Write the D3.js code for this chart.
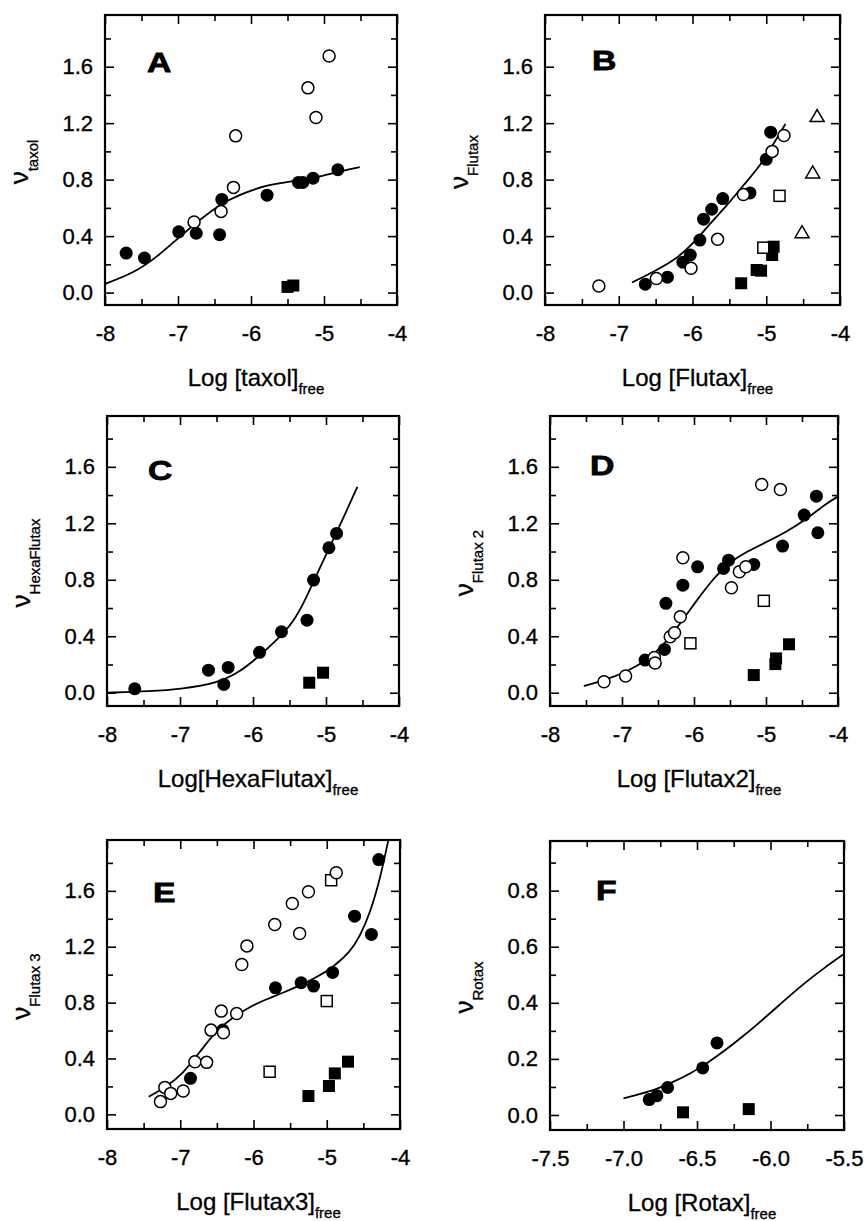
<!DOCTYPE html>
<html><head><meta charset="utf-8">
<script src="https://cdn.jsdelivr.net/npm/d3@7"></script>
<style>
body{margin:0;background:#fff}
svg{display:block}
text{font-family:"Liberation Sans",Arial,Helvetica,sans-serif;fill:#000}
</style>
</head><body>
<svg id="chart" width="867" height="1221"></svg>
<script>
// ---------- tick labels ----------
const xTicksMain = [-8, -7, -6, -5, -4];
const xMinorMain = [-7.5, -6.5, -5.5, -4.5];
const yTicksMain = [0, 0.4, 0.8, 1.2, 1.6];
const yMinorMain = [0.2, 0.6, 1.0, 1.4, 1.8];
const xTicksF = [-7.5, -7.0, -6.5, -6.0, -5.5];
const xMinorF = [-7.25, -6.75, -6.25, -5.75];
const yTicksF = [0, 0.2, 0.4, 0.6, 0.8];
const yMinorF = [0.1, 0.3, 0.5, 0.7, 0.9];

// ---------- Panel A (taxol) ----------
const A_filled = [[-7.71,0.28],[-7.46,0.245],[-6.99,0.43],[-6.75,0.42],[-6.40,0.66],[-6.43,0.41],[-5.78,0.69],[-5.35,0.78],[-5.29,0.78],[-5.15,0.81],[-4.81,0.87]];
const A_open = [[-6.78,0.50],[-6.41,0.575],[-6.24,0.745],[-6.21,1.11],[-5.22,1.45],[-5.11,1.24],[-4.93,1.675]];
const A_filledSq = [[-5.50,0.04],[-5.42,0.05]];
const A_curve = [[-8,0.062],[-7.61,0.137],[-7.29,0.251],[-6.97,0.398],[-6.70,0.516],[-6.43,0.623],[-6.155,0.694],[-5.79,0.762],[-5.43,0.788],[-5.06,0.82],[-4.79,0.857],[-4.51,0.888]];

// ---------- Panel B (Flutax) ----------
const B_filled = [[-6.64,0.059],[-6.34,0.109],[-6.13,0.215],[-6.03,0.266],[-5.90,0.372],[-5.85,0.52],[-5.74,0.59],[-5.59,0.666],[-5.22,0.706],[-5.0,0.944],[-4.94,1.136]];
const B_open = [[-7.27,0.047],[-6.49,0.10],[-6.02,0.172],[-5.66,0.377],[-5.31,0.694],[-4.92,1.0],[-4.76,1.113]];
const B_openSq = [[-5.04,0.318],[-4.82,0.685]];
const B_filledSq = [[-5.34,0.066],[-5.13,0.16],[-5.07,0.155],[-4.92,0.266],[-4.90,0.325]];
const B_openTri = [[-4.515,0.424],[-4.37,0.847],[-4.31,1.247]];
const B_curve = [[-6.82,0.071],[-6.66,0.113],[-6.44,0.172],[-6.21,0.243],[-5.985,0.349],[-5.76,0.49],[-5.53,0.619],[-5.31,0.76],[-5.08,0.90],[-4.90,1.054],[-4.74,1.195]];

// ---------- Panel C (HexaFlutax) ----------
const C_filled = [[-7.62,0.028],[-6.61,0.16],[-6.34,0.179],[-6.40,0.059],[-5.91,0.286],[-5.61,0.432],[-5.26,0.514],[-5.17,0.798],[-4.96,1.027],[-4.855,1.128]];
const C_filledSq = [[-5.23,0.071],[-5.04,0.142]];
const C_curve = [[-8,0.0],[-7.41,0.009],[-6.96,0.028],[-6.50,0.066],[-6.18,0.145],[-5.91,0.262],[-5.63,0.396],[-5.45,0.50],[-5.30,0.64],[-5.17,0.79],[-4.96,1.02],[-4.77,1.23],[-4.57,1.458]];

// ---------- Panel D (Flutax 2) ----------
const D_filled = [[-6.68,0.231],[-6.39,0.633],[-6.41,0.307],[-6.155,0.762],[-5.95,0.892],[-5.59,0.88],[-5.52,0.939],[-5.17,0.909],[-4.77,1.039],[-4.47,1.258],[-4.30,1.392],[-4.28,1.133]];
const D_open = [[-7.25,0.078],[-6.95,0.118],[-6.55,0.25],[-6.54,0.21],[-6.33,0.397],[-6.27,0.425],[-6.19,0.538],[-6.155,0.956],[-5.48,0.743],[-5.37,0.857],[-5.28,0.892],[-5.06,1.475],[-4.80,1.44]];
const D_openSq = [[-6.05,0.35],[-5.03,0.651]];
const D_filledSq = [[-5.17,0.125],[-4.87,0.203],[-4.86,0.243],[-4.68,0.343]];
const D_curve = [[-7.53,0.047],[-7.26,0.085],[-6.93,0.149],[-6.65,0.231],[-6.42,0.338],[-6.19,0.491],[-5.96,0.656],[-5.73,0.81],[-5.50,0.927],[-5.27,0.998],[-4.99,1.069],[-4.71,1.14],[-4.43,1.234],[-4.16,1.341],[-4.0,1.39]];

// ---------- Panel E (Flutax 3) ----------
const E_open = [[-7.27,0.091],[-7.21,0.193],[-7.13,0.15],[-6.96,0.167],[-6.80,0.377],[-6.64,0.372],[-6.58,0.603],[-6.44,0.739],[-6.41,0.584],[-6.23,0.722],[-6.16,1.073],[-6.09,1.206],[-5.71,1.359],[-5.47,1.509],[-5.37,1.295],[-5.25,1.593],[-4.87,1.729]];
const E_filled = [[-6.86,0.258],[-6.42,0.603],[-5.70,0.906],[-5.35,0.942],[-5.18,0.918],[-4.92,1.016],[-4.62,1.419],[-4.39,1.288],[-4.29,1.824]];
const E_openSq = [[-5.78,0.305],[-5.0,0.811],[-4.94,1.676]];
const E_filledSq = [[-5.25,0.131],[-4.97,0.203],[-4.89,0.293],[-4.71,0.377]];
const E_curve = [[-7.43,0.126],[-7.19,0.198],[-6.96,0.293],[-6.73,0.448],[-6.51,0.600],[-6.28,0.695],[-6.05,0.77],[-5.82,0.825],[-5.59,0.872],[-5.37,0.922],[-5.14,0.98],[-4.91,1.055],[-4.68,1.164],[-4.55,1.271],[-4.41,1.438],[-4.27,1.688],[-4.16,1.962]];

// ---------- Panel F (Rotax) ----------
const F_filled = [[-6.825,0.055],[-6.773,0.069],[-6.70,0.098],[-6.461,0.168],[-6.364,0.257]];
const F_filledSq = [[-6.595,0.0095],[-6.148,0.021]];
const F_curve = [[-7.0,0.059],[-6.886,0.075],[-6.77,0.093],[-6.66,0.118],[-6.545,0.148],[-6.43,0.185],[-6.32,0.226],[-6.205,0.273],[-6.09,0.323],[-5.977,0.375],[-5.864,0.428],[-5.75,0.478],[-5.636,0.524],[-5.5,0.574]];

// ---------- layout ----------
const panels = [
  {letter:"A", box:[105,15,397,305], letterPos:[147,72], xd:[-8,-4], yd:[-0.088,1.966], xt:xTicksMain, xm:xMinorMain, yt:yTicksMain, ym:yMinorMain, xfmt:d=>String(d),
   ysub:"taxol", xname:"Log [taxol]", curve:A_curve, filled:A_filled, open:A_open, filledSq:A_filledSq},
  {letter:"B", box:[545,15,840,305], letterPos:[592,70], xd:[-8,-4], yd:[-0.088,1.966], xt:xTicksMain, xm:xMinorMain, yt:yTicksMain, ym:yMinorMain, xfmt:d=>String(d),
   ysub:"Flutax", xname:"Log [Flutax]", curve:B_curve, filled:B_filled, open:B_open, openSq:B_openSq, filledSq:B_filledSq, openTri:B_openTri},
  {letter:"C", box:[107,416,399,706], letterPos:[148,480], xd:[-8,-4], yd:[-0.094,1.96], xt:xTicksMain, xm:xMinorMain, yt:yTicksMain, ym:yMinorMain, xfmt:d=>String(d),
   ysub:"HexaFlutax", xname:"Log[HexaFlutax]", curve:C_curve, filled:C_filled, filledSq:C_filledSq},
  {letter:"D", box:[550,416,838,706], letterPos:[590,475], xd:[-8,-4], yd:[-0.094,1.96], xt:xTicksMain, xm:xMinorMain, yt:yTicksMain, ym:yMinorMain, xfmt:d=>String(d),
   ysub:"Flutax 2", xname:"Log [Flutax2]", curve:D_curve, filled:D_filled, open:D_open, openSq:D_openSq, filledSq:D_filledSq},
  {letter:"E", box:[107,840,400,1129], letterPos:[153,902], xd:[-8,-4], yd:[-0.105,1.964], xt:xTicksMain, xm:xMinorMain, yt:yTicksMain, ym:yMinorMain, xfmt:d=>String(d),
   ysub:"Flutax 3", xname:"Log [Flutax3]", curve:E_curve, filled:E_filled, open:E_open, openSq:E_openSq, filledSq:E_filledSq},
  {letter:"F", box:[550,841,844,1130], letterPos:[596,900], xd:[-7.5,-5.5], yd:[-0.0535,0.977], xt:xTicksF, xm:xMinorF, yt:yTicksF, ym:yMinorF, xfmt:d=>d.toFixed(1),
   ysub:"Rotax", xname:"Log [Rotax]", curve:F_curve, filled:F_filled, filledSq:F_filledSq}
];

const svg = d3.select("#chart");
const FONT = '"Liberation Sans",Arial,Helvetica,sans-serif';
const TICK_FS = 22;

function styleAxis(g, fs){
  g.attr("font-family", FONT).attr("font-size", fs);
  g.select(".domain").remove();
  g.selectAll("line").attr("stroke","#000").attr("stroke-width",1.6);
  g.selectAll("text").attr("fill","#000").attr("stroke","#000").attr("stroke-width",0.35);
}

panels.forEach((p, i) => {
  const [L,T,R,B] = p.box;
  const x = d3.scaleLinear().domain(p.xd).range([L,R]);
  const y = d3.scaleLinear().domain(p.yd).range([B,T]);
  const g = svg.append("g");
  const clipId = "clip"+i;
  svg.append("clipPath").attr("id",clipId).append("rect").attr("x",L).attr("y",T).attr("width",R-L).attr("height",B-T);

  // inward ticks, all four sides
  const MAJ = 9, MIN = 6;
  const addTicks = (axisFn, scale, vals, size, tx, ty) => {
    g.append("g").attr("transform",`translate(${tx},${ty})`)
      .call(axisFn(scale).tickValues(vals).tickSize(size).tickFormat(""))
      .call(s=>styleAxis(s,10));
  };
  addTicks(d3.axisTop, x, p.xt, MAJ, 0, B);
  addTicks(d3.axisTop, x, p.xm, MIN, 0, B);
  addTicks(d3.axisBottom, x, p.xt, MAJ, 0, T);
  addTicks(d3.axisBottom, x, p.xm, MIN, 0, T);
  addTicks(d3.axisRight, y, p.yt, MAJ, L, 0);
  addTicks(d3.axisRight, y, p.ym, MIN, L, 0);
  addTicks(d3.axisLeft, y, p.yt, MAJ, R, 0);
  addTicks(d3.axisLeft, y, p.ym, MIN, R, 0);

  // tick labels
  g.append("g").attr("transform",`translate(0,${B})`)
    .call(d3.axisBottom(x).tickValues(p.xt).tickSize(0).tickPadding(20).tickFormat(p.xfmt))
    .call(s=>styleAxis(s,TICK_FS));
  g.append("g").attr("transform",`translate(${L},0)`)
    .call(d3.axisLeft(y).tickValues(p.yt).tickSize(0).tickPadding(12).tickFormat(d=>d.toFixed(1)))
    .call(s=>styleAxis(s,TICK_FS));

  // frame
  g.append("rect").attr("x",L).attr("y",T).attr("width",R-L).attr("height",B-T)
    .attr("fill","none").attr("stroke","#000").attr("stroke-width",2.2);

  // curve
  const line = d3.line().x(d=>x(d[0])).y(d=>y(d[1])).curve(d3.curveBasis);
  g.append("path").datum(p.curve).attr("d",line).attr("fill","none")
    .attr("stroke","#000").attr("stroke-width",1.8).attr("clip-path",`url(#${clipId})`);

  // markers
  const mk = g.append("g");
  if (p.filledSq) mk.selectAll(".fs").data(p.filledSq).join("rect")
    .attr("x",d=>x(d[0])-6).attr("y",d=>y(d[1])-6).attr("width",12).attr("height",12).attr("fill","#000");
  if (p.openSq) mk.selectAll(".os").data(p.openSq).join("rect")
    .attr("x",d=>x(d[0])-5.5).attr("y",d=>y(d[1])-5.5).attr("width",11).attr("height",11)
    .attr("fill","#fff").attr("stroke","#000").attr("stroke-width",1.5);
  if (p.filled) mk.selectAll(".fc").data(p.filled).join("circle")
    .attr("cx",d=>x(d[0])).attr("cy",d=>y(d[1])).attr("r",6.5).attr("fill","#000");
  if (p.open) mk.selectAll(".oc").data(p.open).join("circle")
    .attr("cx",d=>x(d[0])).attr("cy",d=>y(d[1])).attr("r",6).attr("fill","#fff")
    .attr("stroke","#000").attr("stroke-width",1.5);
  if (p.openTri) mk.selectAll(".ot").data(p.openTri).join("path")
    .attr("d",d=>{const cx=x(d[0]),cy=y(d[1]);return `M${cx},${cy-7}L${cx+7},${cy+5}L${cx-7},${cy+5}Z`;})
    .attr("fill","#fff").attr("stroke","#000").attr("stroke-width",1.5);

  // panel letter
  g.append("text").attr("transform",`translate(${p.letterPos[0]},${p.letterPos[1]}) scale(1.25,1)`)
    .attr("font-size",27).attr("font-weight","bold").attr("stroke","#000").attr("stroke-width",0.8)
    .text(p.letter);

  // x title
  const cx = (L+R)/2 + 5;
  const xt = g.append("text").attr("x",cx).attr("y",B+81).attr("text-anchor","middle").attr("font-size",24)
    .attr("stroke","#000").attr("stroke-width",0.3);
  xt.append("tspan").text(p.xname);
  xt.append("tspan").attr("font-size",15).attr("dy",8).text("free");

  // y title (rotated)
  const cy = (T+B)/2 + 2;
  const yt = g.append("text").attr("transform",`translate(${L-77},${cy}) rotate(-90)`)
    .attr("text-anchor","middle").attr("font-size",26).attr("stroke","#000").attr("stroke-width",0.3);
  yt.append("tspan").text("ν");
  yt.append("tspan").attr("font-size",15).attr("dy",10).text(p.ysub);
});
</script>
</body></html>
